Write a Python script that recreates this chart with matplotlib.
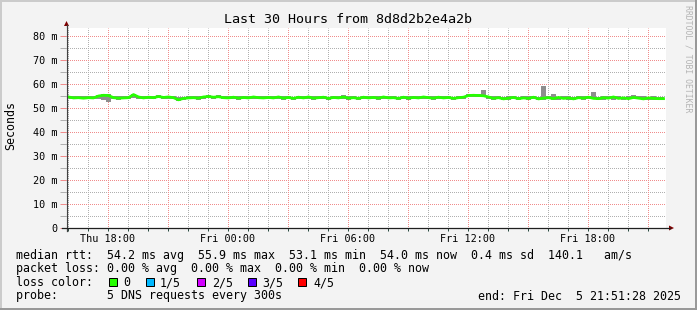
import matplotlib
matplotlib.use('Agg')
import matplotlib.pyplot as plt
from matplotlib.lines import Line2D
from matplotlib.patches import Polygon, Rectangle

W, H = 697, 310
plt.rcParams['font.family'] = 'DejaVu Sans Mono'

title = 'Last 30 Hours from 8d8d2b2e4a2b'
start_hour = 15.9   # left edge of the graph, Thu
span_hours = 30
step_hours = 0.25

# median rtt in ms, one value per 15 minutes
median_rtt = [54.6, 54.2, 54.3, 54.1, 54.3, 54.2, 55.0, 55.3, 55.2, 54.3,
              54.1, 54.2, 54.3, 55.6, 54.6, 54.2, 54.5, 54.3, 54.8, 54.4,
              54.6, 54.3, 53.4, 54.0, 54.2, 54.3, 54.1, 54.6, 54.8, 54.5,
              54.7, 54.3, 54.2, 54.5, 54.1, 54.4, 54.2, 54.6, 54.3, 54.2,
              54.4, 54.2, 54.6, 54.1, 54.4, 54.0, 54.5, 54.2, 54.6, 54.1,
              54.3, 54.5, 54.0, 54.4, 54.2, 54.6, 54.1, 54.3, 54.0, 54.5,
              54.2, 54.4, 54.1, 54.6, 54.2, 54.3, 54.0, 54.5, 54.1, 54.4,
              54.2, 54.6, 54.3, 54.1, 54.5, 54.2, 54.4, 54.0, 54.3, 54.5,
              55.2, 55.3, 55.2, 55.1, 54.6, 54.0, 54.3, 53.8, 54.1, 54.4,
              53.9, 54.2, 54.0, 54.5, 53.8, 54.1, 54.3, 53.9, 54.4, 54.0,
              54.2, 53.8, 54.3, 54.1, 54.5, 54.0, 53.9, 54.3, 54.1, 54.6,
              54.0, 54.2, 53.9, 54.4, 54.1, 53.8, 54.2, 54.0, 53.9, 53.9]

# smoke: slowest and fastest ping per step
smoke_hi = [55.2, 55.0, 54.9, 54.8, 55.0, 54.9, 55.6, 55.7, 55.7, 55.0,
            54.8, 54.9, 55.0, 56.0, 55.2, 54.9, 55.1, 55.0, 55.3, 55.1,
            55.2, 54.9, 54.5, 54.7, 54.9, 55.0, 55.1, 55.2, 55.4, 55.1,
            55.3, 54.9, 54.8, 55.1, 54.8, 55.0, 54.9, 55.2, 55.0, 54.8,
            55.0, 54.9, 55.2, 54.8, 55.0, 54.7, 55.1, 54.9, 55.2, 54.8,
            55.0, 55.1, 54.7, 55.0, 54.9, 55.3, 54.8, 55.0, 54.7, 55.1,
            54.9, 55.0, 54.8, 55.2, 54.9, 55.0, 54.7, 55.1, 54.8, 55.0,
            54.9, 55.2, 55.0, 54.8, 55.1, 54.9, 55.0, 54.7, 55.0, 55.2,
            55.8, 55.9, 55.8, 57.5, 55.2, 54.8, 55.0, 54.6, 54.9, 55.1,
            54.7, 54.9, 54.8, 55.2, 54.6, 59.2, 55.0, 55.8, 54.7, 55.1,
            54.9, 54.6, 55.0, 54.8, 55.2, 56.7, 54.7, 54.9, 55.1, 54.8,
            55.2, 54.7, 55.0, 55.6, 55.1, 54.8, 54.7, 54.9, 54.6, 54.6]
smoke_lo = [53.9, 53.6, 53.7, 53.6, 53.8, 53.7, 53.9, 53.2, 52.5, 53.6,
            53.5, 53.7, 53.6, 54.2, 53.9, 53.7, 53.8, 53.6, 54.0, 53.8,
            53.7, 53.6, 52.9, 53.4, 53.6, 53.7, 53.5, 53.9, 54.1, 53.9,
            54.0, 53.7, 53.6, 53.9, 53.5, 53.8, 53.6, 53.9, 53.7, 53.6,
            53.7, 53.6, 53.9, 53.5, 53.7, 53.4, 53.8, 53.6, 53.9, 53.5,
            53.7, 53.8, 53.4, 53.8, 53.6, 53.9, 53.5, 53.7, 53.4, 53.8,
            53.6, 53.7, 53.4, 53.9, 53.6, 53.8, 53.4, 53.7, 53.5, 53.7,
            53.6, 53.9, 53.6, 53.5, 53.8, 53.6, 53.7, 53.4, 53.6, 53.9,
            54.5, 54.6, 54.5, 54.4, 53.7, 53.4, 53.6, 53.2, 53.5, 53.7,
            53.2, 53.6, 53.4, 53.8, 53.2, 53.5, 53.6, 53.3, 53.4, 53.7,
            53.5, 53.2, 53.6, 53.4, 53.8, 53.6, 53.3, 53.5, 53.7, 53.4,
            53.8, 53.3, 53.6, 53.9, 53.6, 53.3, 53.5, 53.5, 53.4, 53.4]

x_label_hours = [18, 24, 30, 36, 42]
x_labels = ['Thu 18:00', 'Fri 00:00', 'Fri 06:00', 'Fri 12:00', 'Fri 18:00']
y_ticks = [0, 10, 20, 30, 40, 50, 60, 70, 80]
y_labels = ['0', '10 m', '20 m', '30 m', '40 m', '50 m', '60 m', '70 m', '80 m']

legend_lines = ['median rtt:  54.2 ms avg  55.9 ms max  53.1 ms min  54.0 ms now  0.4 ms sd  140.1   am/s',
                'packet loss: 0.00 % avg  0.00 % max  0.00 % min  0.00 % now',
                'loss color:',
                'probe:       5 DNS requests every 300s']
loss_labels = ['0', '1/5', '2/5', '3/5', '4/5']
loss_colors = ['#26ff00', '#00b8ff', '#d200ff', '#5a00ff', '#ff0000']
end_text = 'end: Fri Dec  5 21:51:28 2025'


def px(x, y):
    return x / W, 1 - y / H


fig = plt.figure(figsize=(W / 100, H / 100), dpi=100, facecolor='#f3f3f3')
ax = fig.add_axes([66 / W, 82 / H, 600 / W, 200 / H])
ax.set_facecolor('white')

t = [i * step_hours + step_hours / 2 for i in range(len(median_rtt))]
ax.fill_between(t, smoke_lo, smoke_hi, step='mid', color='#8e8e8e', lw=0, zorder=3)
ax.plot(t, median_rtt, color='#26ff00', lw=2.0, zorder=4)

ax.set_xlim(0, span_hours)
ax.set_ylim(0, 200 / 24 * 10)

# grid lines drawn by hand so both kinds get the same dotted look
hour_minor = [h - start_hour for h in range(16, 46) if h % 3 != 0]
hour_major = [h - start_hour for h in range(18, 46, 3)]
y_minor = [5, 15, 25, 35, 45, 55, 65, 75]
dots = (0.5, (1, 1))
for xv in hour_minor:
    ax.axvline(xv, color='#b0b0b0', ls=dots, lw=0.72, snap=True, zorder=1)
for yv in y_minor:
    ax.axhline(yv, color='#b0b0b0', ls=dots, lw=0.72, snap=True, zorder=1)
for xv in hour_major:
    ax.axvline(xv, color='#f08c8c', ls=dots, lw=0.72, snap=True, zorder=1.5)
for yv in y_ticks[1:]:
    ax.axhline(yv, color='#f08c8c', ls=dots, lw=0.72, snap=True, zorder=1.5)

ax.set_xticks(hour_major)
ax.set_xticklabels([x_labels[x_label_hours.index(h)] if h in x_label_hours else ''
                    for h in range(18, 46, 3)])
ax.set_xticks(hour_minor, minor=True)
ax.set_yticks(y_ticks)
ax.set_yticklabels(y_labels)
ax.set_yticks(y_minor, minor=True)
for s in ax.spines.values():
    s.set_visible(False)

ax.tick_params(axis='x', which='both', length=2, width=0.72, color='#2c4d43',
               labelsize=7.3, pad=2)
ax.tick_params(axis='y', which='major', length=4, width=0.72, color='#f08c8c',
               labelsize=7.3, pad=2.2)
ax.tick_params(axis='y', which='minor', length=4, width=0.72, color='#b0b0b0')

# axes lines and arrows
fig.add_artist(Line2D(*zip(px(66.5, 231), px(66.5, 25)), color='#404040', lw=0.9))
fig.add_artist(Line2D(*zip(px(62, 228), px(670, 228)), color='#202020', lw=0.9))
fig.add_artist(Polygon([px(64, 26), px(69, 26), px(66.5, 21)], closed=True,
                       color='#7f0000', lw=0))
fig.add_artist(Polygon([px(669, 225.5), px(669, 230.5), px(674, 228)], closed=True,
                       color='#7f0000', lw=0))

# texts
fig.text(*px(348, 19.5), title, ha='center', va='center', fontsize=9.6)
fig.text(*px(10.5, 126), 'Seconds', rotation=90, ha='center', va='center', fontsize=8.4)
fig.text(*px(688, 5), 'RRDTOOL / TOBI OETIKER', rotation=270, ha='center', va='top',
         fontsize=5.9, color='#b4b4b4')

baselines = [258.5, 272, 286, 299.5]
for line, yb in zip(legend_lines, baselines):
    fig.text(*px(16, yb), line, ha='left', va='baseline', fontsize=8.4)
fig.text(*px(680.5, baselines[3]), end_text, ha='right', va='baseline', fontsize=8.4)

box_x = [108.5, 146, 196.5, 247.5, 298]
text_x = [123.3, 160, 211.7, 262.7, 313.3]
for bx, tx, lab, col in zip(box_x, text_x, loss_labels, loss_colors):
    x0, y0 = px(bx, 286)
    fig.add_artist(Rectangle((x0, y0), 8 / W, 8 / H, facecolor=col, edgecolor='black', lw=0.72))
    fig.text(*px(tx, baselines[2]), lab, ha='left', va='baseline', fontsize=8.4)

# 3d frame
fig.add_artist(Line2D(*zip(px(0, 1), px(W, 1)), color='#cbcbcb', lw=1.44))
fig.add_artist(Line2D(*zip(px(1, 0), px(1, H)), color='#cbcbcb', lw=1.44))
fig.add_artist(Line2D(*zip(px(0, H - 1), px(W, H - 1)), color='#999999', lw=1.44))
fig.add_artist(Line2D(*zip(px(W - 1, 0), px(W - 1, H)), color='#999999', lw=1.44))

fig.savefig('out.png', dpi=100, facecolor=fig.get_facecolor())
